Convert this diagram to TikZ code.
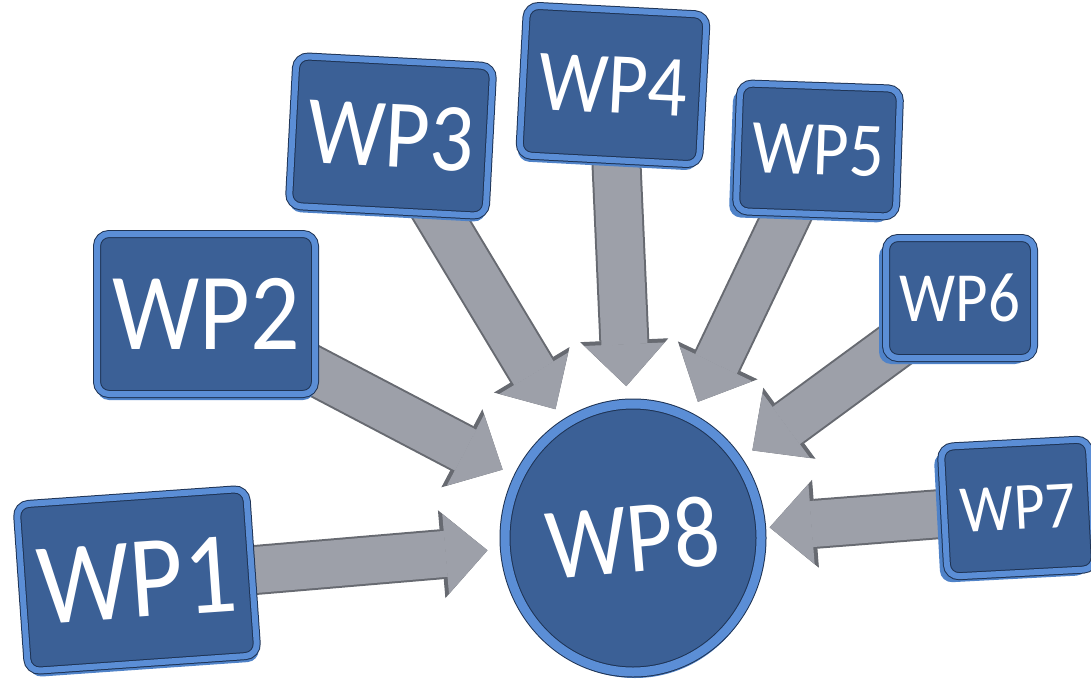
\documentclass[tikz,border=0pt]{standalone}
\usepackage{fontspec}
\setmainfont{Carlito}
\usepackage{tikz}
\usetikzlibrary{arrows.meta,shapes.geometric,shadows,backgrounds}

\definecolor{wpface}{HTML}{3B6096}
\definecolor{wprim}{HTML}{5B8ED6}
\definecolor{wpline}{HTML}{1E3354}
\definecolor{wpside}{HTML}{4F82C8}
\definecolor{feedgray}{HTML}{9DA0A9}
\definecolor{feeddark}{HTML}{676A71}

\newcommand{\tallwp}[1]{\scalebox{1}[1.12]{#1}}

\begin{document}
\begin{tikzpicture}[x=1pt, y=-1pt,
  main/.style = {draw=wpline, line width=1pt, double=wprim, double distance=6pt,
                 fill=wpface, text=white, outer sep=0pt, inner sep=0pt},
  box/.style = {main, rectangle, rounded corners=12pt},
  hub/.style = {main, ellipse, double distance=9pt},
  depth/.style = {drop shadow={shadow xshift=#1, shadow yshift=-6pt, fill=wpside, opacity=1}},
  feed/.style = {draw=feedgray, line width=46pt, shorten >=18pt,
                 -{Triangle[width=80pt,length=42pt,line width=1pt]},
                 preaction={draw=feeddark, line width=50pt,
                            -{Triangle[width=88pt,length=46pt,line width=1pt]}}}]
\useasboundingbox (0,0) rectangle (1091,682);

\node[box, depth=2pt, minimum width=230pt, minimum height=167pt, rotate=4] (1) at (137,580)
  {\fontsize{104pt}{110pt}\selectfont\tallwp{WP1}};
\node[box, depth=0pt, minimum width=218pt, minimum height=160pt] (2) at (206,314)
  {\fontsize{98pt}{104pt}\selectfont\tallwp{WP2}};
\node[box, depth=0pt, minimum width=197pt, minimum height=150pt, rotate=-3] (3) at (391,136)
  {\fontsize{87pt}{92pt}\selectfont\tallwp{WP3}};
\node[box, depth=-2pt, minimum width=180pt, minimum height=150pt, rotate=-3] (4) at (613,85)
  {\fontsize{78pt}{84pt}\selectfont\tallwp{WP4}};
\node[box, depth=-7pt, minimum width=160pt, minimum height=128pt, rotate=-2] (5) at (818,150)
  {\fontsize{69pt}{74pt}\selectfont\tallwp{WP5}};
\node[box, depth=-7pt, minimum width=148pt, minimum height=120pt] (6) at (960,298)
  {\fontsize{63pt}{68pt}\selectfont\tallwp{WP6}};
\node[box, depth=-7pt, minimum width=148pt, minimum height=130pt, rotate=3] (7) at (1018,508)
  {\fontsize{60pt}{65pt}\selectfont\tallwp{WP7}};
\node[hub, depth=2pt, minimum width=256pt, minimum height=268pt] (8) at (633,538)
  {\rotatebox{5}{\fontsize{91pt}{96pt}\selectfont\tallwp{WP8}}};

\begin{scope}[on background layer]
\draw[feed] (1.center) -- (8);
\draw[feed] (2.center) -- (8);
\draw[feed] (3.center) -- (8);
\draw[feed] (4.center) -- (8);
\draw[feed] (5.center) -- (8);
\draw[feed] (6.center) -- (8);
\draw[feed, shorten >=9pt] (7.center) -- (8);
\end{scope}
\end{tikzpicture}
\end{document}
